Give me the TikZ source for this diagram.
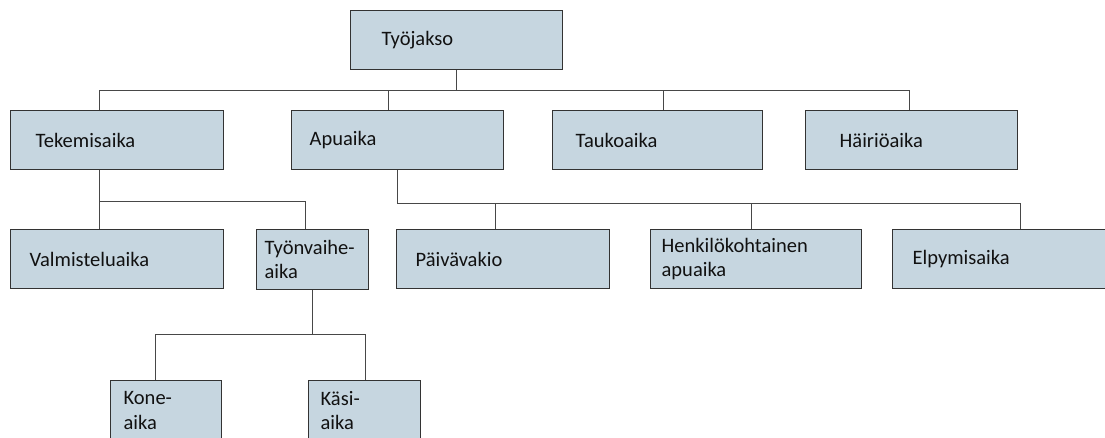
\documentclass[tikz,border=0pt]{standalone}
\usepackage{fontspec}
\setmainfont{Carlito}
\definecolor{boxfill}{HTML}{C6D6E0}
\definecolor{boxline}{HTML}{333333}
\definecolor{connline}{HTML}{474747}
\definecolor{txt}{HTML}{111111}
\tikzset{
  box/.style n args={3}{draw=boxline, line width=1.3pt, fill=boxfill,
    anchor=north west, minimum width=#1, text width=#2, inner xsep=#3,
    inner ysep=0pt, minimum height=59pt, align=left, text=txt,
    font=\fontsize{20.5}{24.5}\selectfont},
  conn/.style={draw=connline, line width=1.1pt}
}
\begin{document}
\begin{tikzpicture}[x=1pt,y=-1pt]
\useasboundingbox (0,0) rectangle (1105,438);
\clip (0,0) rectangle (1105,438);
\node[box={212pt}{150pt}{31pt}] (top) at (350,10) {Työjakso};
\node[box={213pt}{163pt}{25pt}] (tek) at (10,110) {Tekemisaika};
\node[box={212pt}{176pt}{18pt}] (apu) at (291,110) {Apuaika};
\node[box={210pt}{164pt}{23pt}] (tau) at (552,110) {Taukoaika};
\node[box={212pt}{144pt}{34pt}] (hai) at (805,110) {Häiriöaika};
\node[box={213pt}{175pt}{19pt}] (val) at (10,229) {Valmisteluaika};
\node[box={112pt}{96pt}{8pt}, minimum height=60pt] (tyo) at (256,229) {Työnvaihe-\\aika};
\node[box={213pt}{175pt}{19pt}] (pai) at (396,229) {Päivävakio};
\node[box={211pt}{189pt}{11pt}] (hen) at (650,229) {Henkilökohtainen\\apuaika};
\node[box={215pt}{175pt}{20pt}] (elp) at (892,229) {Elpymisaika};
\node[box={111pt}{85pt}{13pt}, minimum height=60pt] (kone) at (110,380) {Kone-\\aika};
\node[box={112pt}{88pt}{12pt}, minimum height=60pt] (kasi) at (308,380) {Käsi-\\aika};
% level 1
\path (top.south) ++(0,20) coordinate (j);
\draw[conn] (top.south) -- (j);
\draw[conn] ([xshift=-18pt]tek.north) |- (j) -| ([xshift=-2pt]hai.north);
\draw[conn] ([xshift=-9pt]apu.north) -- ([xshift=-9pt]apu.north |- j);
\draw[conn] ([xshift=6pt]tau.north) -- ([xshift=6pt]tau.north |- j);
% Tekemisaika
\path ([xshift=-18pt]tek.south) ++(0,31) coordinate (k);
\draw[conn] ([xshift=-18pt]tek.south) -- ([xshift=-18pt]val.north);
\draw[conn] (k) -| ([xshift=-7pt]tyo.north);
% Apuaika
\path (apu.south) ++(0,33) coordinate (m);
\draw[conn] (apu.south) -- (m) -| ([xshift=20pt]elp.north);
\draw[conn] ([xshift=-7.5pt]pai.north) -- ([xshift=-7.5pt]pai.north |- m);
\draw[conn] ([xshift=-4.5pt]hen.north) -- ([xshift=-4.5pt]hen.north |- m);
% Tyonvaihe-aika
\path (tyo.south) ++(0,44) coordinate (n);
\draw[conn] (tyo.south) -- (n);
\draw[conn] ([xshift=-10.5pt]kone.north) |- (n) -| ([xshift=1pt]kasi.north);
\end{tikzpicture}
\end{document}
